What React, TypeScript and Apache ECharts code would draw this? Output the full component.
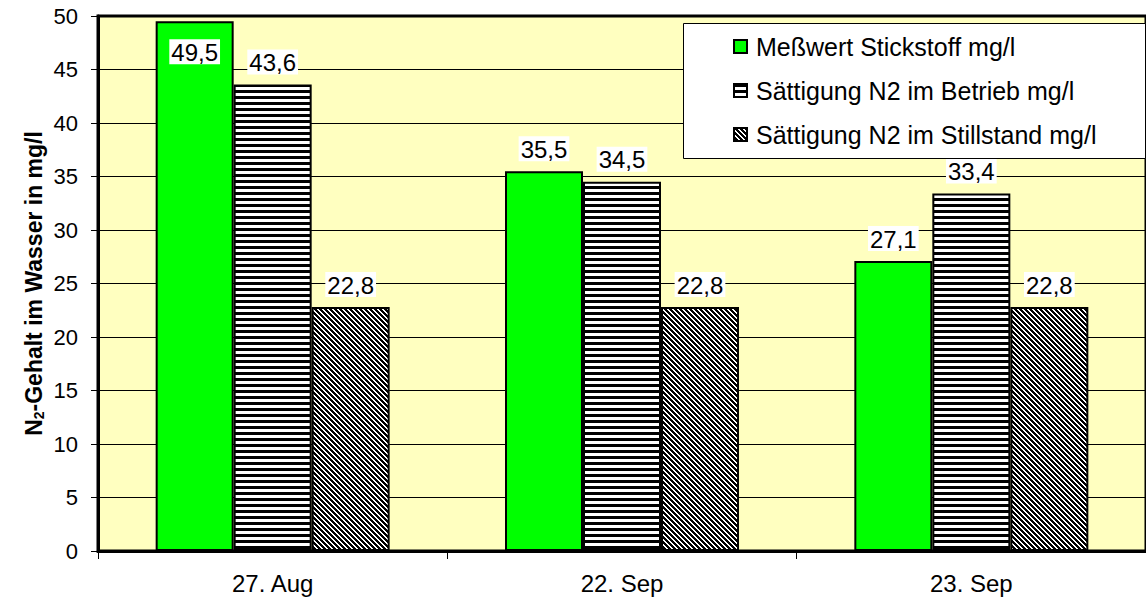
import React, { useEffect, useRef } from "react";
import * as echarts from "echarts";

const categories = ["27. Aug", "22. Sep", "23. Sep"];
const messwert = [49.5, 35.5, 27.1];
const saettigungBetrieb = [43.6, 34.5, 33.4];
const saettigungStillstand = [22.8, 22.8, 22.8];
const seriesNames = [
  "Meßwert Stickstoff mg/l",
  "Sättigung N2 im Betrieb mg/l",
  "Sättigung N2 im Stillstand mg/l",
];
const yMin = 0;
const yMax = 50;
const yInterval = 5;

const FONT = 'Arial, "Liberation Sans", sans-serif';

function makePattern(size: number, isBlack: (x: number, y: number) => boolean) {
  const c = document.createElement("canvas");
  c.width = size;
  c.height = size;
  const ctx = c.getContext("2d")!;
  ctx.fillStyle = "#fff";
  ctx.fillRect(0, 0, size, size);
  ctx.fillStyle = "#000";
  for (let y = 0; y < size; y++) {
    for (let x = 0; x < size; x++) {
      if (isBlack(x, y)) ctx.fillRect(x, y, 1, 1);
    }
  }
  return {
    image: c.toDataURL(),
    repeat: "repeat",
    imageWidth: size,
    imageHeight: size,
  } as any;
}

export default function App() {
  const ref = useRef<HTMLDivElement>(null);
  useEffect(() => {
    document.body.style.margin = "0";
    const chart = echarts.init(ref.current!, null, { renderer: "svg" });
    const horiz = makePattern(6, (_x, y) => y < 3);
    const diag = makePattern(5, (x, y) => (((x - y) % 5) + 5) % 5 < 3);
    const fmt = (p: any) => String(p.value).replace(".", ",");
    const labelBase = {
      show: true,
      position: "top",
      distance: 10,
      color: "#000",
      fontFamily: FONT,
      fontSize: 24,
      backgroundColor: "#fff",
      padding: [1, 2, 0, 2],
      formatter: fmt,
    };
    const itemBase = { borderColor: "#000", borderWidth: 2 };
    chart.setOption({
      animation: false,
      backgroundColor: "#fff",
      textStyle: { fontFamily: FONT },
      grid: {
        left: 98,
        top: 16,
        width: 1056,
        height: 535,
        show: true,
        backgroundColor: "#FFFFC0",
        borderColor: "#000",
        borderWidth: 3,
      },
      legend: {
        orient: "vertical",
        left: 728,
        top: 29,
        z: 20,
        itemWidth: 13,
        itemHeight: 13,
        itemGap: 19,
        icon: "rect",
        textStyle: { fontFamily: FONT, fontSize: 25, color: "#000", lineHeight: 25, padding: [0, 0, 0, 4] },
        data: seriesNames,
      },
      graphic: [
        {
          type: "rect",
          left: 683,
          top: 23,
          z: 5,
          shape: { width: 462, height: 135 },
          style: { fill: "#fff", stroke: "#000", lineWidth: 1 },
        },
      ],
      xAxis: {
        type: "category",
        data: categories,
        axisLine: { lineStyle: { color: "#000", width: 3 } },
        axisTick: { show: true, alignWithLabel: false, length: 8, lineStyle: { color: "#000", width: 1 } },
        axisLabel: { color: "#000", fontSize: 24, fontFamily: FONT, margin: 20 },
      },
      yAxis: {
        type: "value",
        min: yMin,
        max: yMax,
        interval: yInterval,
        axisLine: { show: true, lineStyle: { color: "#000", width: 3 } },
        axisTick: { show: true, length: 7, lineStyle: { color: "#000", width: 1 } },
        axisLabel: { color: "#000", fontSize: 22, fontFamily: FONT, margin: 20 },
        splitLine: { show: true, lineStyle: { color: "#000", width: 1 } },
        name: "{b|N}{sub|2}{b|-Gehalt im Wasser in mg/l}",
        nameLocation: "middle",
        nameGap: 52,
        nameMoveOverlap: false,
        nameTextStyle: {
          rich: {
            b: { fontSize: 23, fontWeight: "bold", fontFamily: FONT, color: "#000" },
            sub: { fontSize: 14, fontWeight: "bold", fontFamily: FONT, color: "#000", padding: [10, 0, 0, 0] },
          },
        },
      },
      series: [
        {
          name: seriesNames[0],
          type: "bar",
          barWidth: 78,
          barGap: "0%",
          data: messwert.map((v, i) =>
            i === 0
              ? { value: v, label: { position: "insideTop", distance: 18 } }
              : v
          ),
          itemStyle: { color: "#00FF00", ...itemBase },
          label: labelBase,
        },
        {
          name: seriesNames[1],
          type: "bar",
          barWidth: 78,
          barGap: "0%",
          data: saettigungBetrieb,
          itemStyle: { color: horiz, ...itemBase },
          label: labelBase,
        },
        {
          name: seriesNames[2],
          type: "bar",
          barWidth: 78,
          barGap: "0%",
          data: saettigungStillstand,
          itemStyle: { color: diag, ...itemBase },
          label: labelBase,
        },
      ],
    });
    return () => chart.dispose();
  }, []);
  return <div ref={ref} style={{ width: 1146, height: 604 }} />;
}
